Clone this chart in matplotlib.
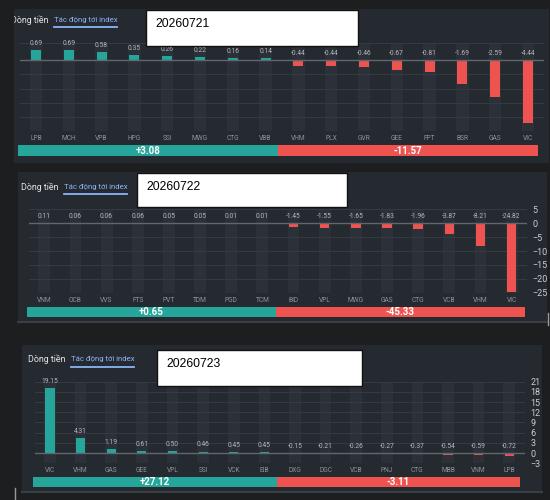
import matplotlib
matplotlib.use('Agg')
import matplotlib.pyplot as plt
from matplotlib.patches import Rectangle
import numpy as np

plt.rcParams['font.family'] = ['Roboto', 'DejaVu Sans']

# ---- du lieu ----
p1_date = '20260721'
p1_names = ['LPB', 'MCH', 'VPB', 'HPG', 'SSI', 'MWG', 'CTG', 'VBB',
            'VHM', 'PLX', 'GVR', 'GEE', 'FPT', 'BSR', 'GAS', 'VIC']
p1_vals = [0.69, 0.69, 0.58, 0.35, 0.26, 0.22, 0.16, 0.14,
           -0.44, -0.44, -0.46, -0.67, -0.81, -1.69, -2.59, -4.44]
p1_totals = ['+3.08', '-11.57']

p2_date = '20260722'
p2_names = ['VNM', 'OCB', 'VVS', 'FTS', 'PVT', 'TDM', 'PGD', 'TCM',
            'BID', 'VPL', 'MWG', 'GAS', 'CTG', 'VCB', 'VHM', 'VIC']
p2_vals = [0.11, 0.06, 0.06, 0.06, 0.05, 0.05, 0.01, 0.01,
           -1.45, -1.55, -1.65, -1.83, -1.96, -3.87, -8.21, -24.82]
p2_totals = ['+0.65', '-45.33']
p2_ticks = [5, 0, -5, -10, -15, -20, -25]

p3_date = '20260723'
p3_names = ['VIC', 'VHM', 'GAS', 'GEE', 'VPL', 'SSI', 'VCK', 'EIB',
            'DXG', 'DGC', 'VCB', 'PNJ', 'CTG', 'MBB', 'VNM', 'LPB']
p3_vals = [19.15, 4.31, 1.19, 0.61, 0.50, 0.46, 0.45, 0.45,
           -0.15, -0.21, -0.26, -0.27, -0.37, -0.54, -0.59, -0.72]
p3_totals = ['+27.12', '-3.11']
p3_ticks = [21, 18, 15, 12, 9, 6, 3, 0, -3]

# thanh tong: hai nua bang nhau nhu trong anh
split = [0.5, 0.5]

# ---- mau ----
OUTER = '#1d1e20'
PANEL = '#252930'
STRIPE = '#2c3038'
GRID = '#353a42'
ZERO = '#62676e'
GREEN = '#26a69a'
RED = '#ef5350'
LABEL = '#b4b8be'
TICK = '#8f949b'
BLUE = '#8ab4f8'

W, H = 550, 500
fig = plt.figure(figsize=(5.5, 5), dpi=100, facecolor=OUTER)


def px_axes(x0, y0, x1, y1):
    return fig.add_axes([x0 / W, 1 - y1 / H, (x1 - x0) / W, (y1 - y0) / H])


def px_overlay(z):
    a = px_axes(0, 0, W, H)
    a.set_xlim(0, W)
    a.set_ylim(H, 0)
    a.axis('off')
    a.set_zorder(z)
    return a


bg = px_overlay(-1)
top = px_overlay(10)


def panel_frame(box, tab_x, tab_y, datebox, date):
    x0, y0, x1, y1 = box
    rect = Rectangle((x0, y0), x1 - x0, y1 - y0, color=PANEL, lw=0)
    bg.add_patch(rect)
    t = bg.text(tab_x, tab_y, 'Dòng tiền', color='#e4e6ea', fontsize=6.4,
                va='center', ha='left', clip_on=True)
    t.set_clip_path(rect)
    bg.text(tab_x + 43, tab_y, 'Tác động tới index', color=BLUE,
            fontsize=5.6, va='center', ha='left')
    bg.plot([tab_x + 43, tab_x + 106], [tab_y + 7, tab_y + 7],
            color=BLUE, lw=1.3)
    bx0, by0, bx1, by1 = datebox
    top.add_patch(Rectangle((bx0, by0), bx1 - bx0, by1 - by0,
                            facecolor='white', edgecolor='#111111', lw=1))
    top.text(bx0 + 9, by0 + 14, date, color='black', fontsize=8.7,
             family='Liberation Sans', va='center', ha='left')


def bar_panel(box, names, vals, ylo, yhi, ticks, show_ylabels):
    ax = px_axes(*box)
    ax.set_facecolor('none')
    x = np.arange(len(names))
    ax.bar(x, yhi - ylo, bottom=ylo, width=0.38, color=STRIPE, zorder=0)
    for t in ticks:
        ax.axhline(t, color=GRID, lw=0.8, zorder=1)
    ax.axhline(yhi, color=GRID, lw=0.8, zorder=1)
    colors = [GREEN if v >= 0 else RED for v in vals]
    ax.bar(x, vals, width=0.3, color=colors, zorder=2)
    ax.axhline(0, color=ZERO, lw=1, zorder=3)
    for xi, v in zip(x, vals):
        ax.annotate('%.2f' % v, (xi, max(v, 0)), xytext=(0, 2.2),
                    textcoords='offset points', ha='center', va='bottom',
                    fontsize=4.8, color=LABEL, annotation_clip=False)
    ax.set_xlim(-0.5, len(names) - 0.5)
    ax.set_ylim(ylo, yhi)
    ax.set_xticks(x, names)
    ax.tick_params(axis='x', length=0, pad=3, labelsize=4.8, labelcolor=TICK)
    ax.yaxis.tick_right()
    ax.set_yticks(ticks)
    ax.tick_params(axis='y', length=0, pad=4, labelsize=6.5,
                   labelcolor='#c9ccd1', labelright=show_ylabels)
    for s in ax.spines.values():
        s.set_visible(False)
    return ax


def total_bar(box, totals):
    ax = px_axes(*box)
    ax.barh([0], [split[0]], height=1, color=GREEN)
    ax.barh([0], [split[1]], left=split[0], height=1, color=RED)
    ax.text(split[0] / 2, 0, totals[0], color='white', fontsize=7,
            fontweight='bold', ha='center', va='center')
    ax.text(split[0] + split[1] / 2, 0, totals[1], color='white', fontsize=7,
            fontweight='bold', ha='center', va='center')
    ax.set_xlim(0, sum(split))
    ax.set_ylim(-0.5, 0.5)
    ax.axis('off')


# ---- panel 1 ----
panel_frame((14, 9, 549, 163), 11, 20, (146, 10, 358, 46), p1_date)
bar_panel((19.6, 43.3, 544.4, 131.3), p1_names, p1_vals, -5, 1.17,
          [0, -1, -2, -3, -4, -5], False)
total_bar((18, 145, 537.7, 156), p1_totals)

# ---- panel 2 ----
panel_frame((18, 172, 547, 321), 21, 187, (137, 173, 347, 207), p2_date)
bg.plot([18, 547], [322, 322], color='#3a3e45', lw=1.5)
bar_panel((28.7, 209.3, 527.2, 292.7), p2_names, p2_vals, -25, 5,
          p2_ticks, True)
total_bar((26.7, 306.7, 525, 317.3), p2_totals)
top.plot([548, 548], [313, 325], color='#9a9a9a', lw=1)

# ---- panel 3 ----
panel_frame((22, 345, 542, 491), 28, 359.5, (157, 350, 362, 386), p3_date)
bg.plot([22, 542], [492, 492], color='#3a3e45', lw=1.5)
bar_panel((34.7, 381.7, 524.6, 463.3), p3_names, p3_vals, -3, 21,
          p3_ticks, True)
total_bar((33, 476.7, 520, 487.3), p3_totals)
top.plot([15, 15], [488, 500], color='#9a9a9a', lw=1)

fig.savefig('out.png', dpi=100, facecolor=OUTER)
